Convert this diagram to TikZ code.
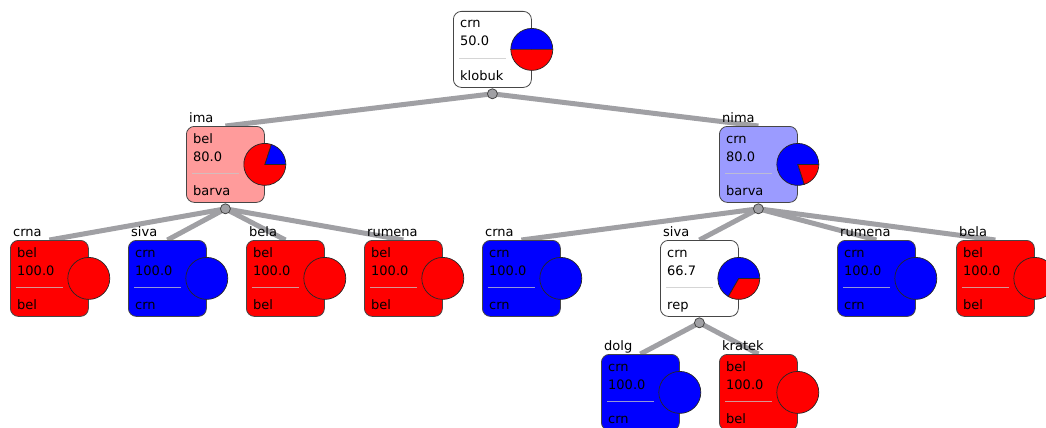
\documentclass[tikz,border=0pt]{standalone}
\usepackage{fontspec}
\setmainfont{DejaVu Sans}
\usetikzlibrary{calc}
\pgfdeclarelayer{background}
\pgfsetlayers{background,main}

\definecolor{lightred}{RGB}{255,155,155}
\definecolor{lightblue}{RGB}{155,155,255}
\definecolor{edgegray}{RGB}{160,160,164}
\definecolor{rimgray}{RGB}{70,70,70}
\definecolor{sepgray}{RGB}{200,200,200}

% 节点: 名称, 左, 上, 填充, 类别, 百分比, 属性, 分支标签
\newcommand{\tnode}[8]{%
  \node[box, fill=#4] (#1) at (#2,-#3) {};
  \node[txt] (#1-l) at ($(#1.north west)+(3,4)$) {#8};
  \node[txt] (#1-a) at ($(#1.north west)+(7,-17)$) {#5};
  \node[txt] (#1-b) at ($(#1.north west)+(7,-35)$) {#6};
  \draw[sep] ($(#1.north west)+(6,-47)$) -- ++(47,0);
  \node[txt] (#1-c) at ($(#1.north west)+(7,-69)$) {#7};
}
% 饼图: 蓝色扇形从 0 度到 #2 度
\newcommand{\tpie}[2]{%
  \draw[rim, fill=blue] (#1.east) -- ++(0:21) arc[start angle=0, end angle=#2, radius=21] -- cycle;
  \draw[rim, fill=red] (#1.east) -- ++(#2:21) arc[start angle=#2, end angle=360, radius=21] -- cycle;
}
\newcommand{\tfull}[2]{%
  \draw[rim, fill=#2] (#1.east) circle (21);
}

\begin{document}
\begin{tikzpicture}[x=1pt, y=1pt,
  box/.style={draw=rimgray, line width=0.8pt, rounded corners=8pt, anchor=north west,
    minimum width=78pt, minimum height=76pt, inner sep=0pt},
  txt/.style={anchor=base west, inner sep=0pt, font=\fontsize{13}{15}\selectfont},
  sep/.style={sepgray, opacity=0.75, line width=0.8pt},
  rim/.style={draw=black!85, line width=0.7pt},
  dot/.style={circle, draw=rimgray, fill=edgegray, line width=0.8pt,
    minimum size=10pt, inner sep=0pt},
  edge/.style={edgegray, line width=5pt},
]
  \useasboundingbox (0,0) rectangle (1046,-428);
  % 根节点
  \tnode{root}{453}{11}{white}{crn}{50.0}{klobuk}{}
  \tpie{root}{180}
  % 第一层
  \tnode{ima}{186}{126}{lightred}{bel}{80.0}{barva}{ima}
  \tpie{ima}{72}
  \tnode{nima}{719}{126}{lightblue}{crn}{80.0}{barva}{nima}
  \tpie{nima}{288}
  % 第二层
  \tnode{crnaA}{10}{240}{red}{bel}{100.0}{bel}{crna}
  \tfull{crnaA}{red}
  \tnode{sivaA}{128}{240}{blue}{crn}{100.0}{crn}{siva}
  \tfull{sivaA}{blue}
  \tnode{belaA}{246}{240}{red}{bel}{100.0}{bel}{bela}
  \tfull{belaA}{red}
  \tnode{rumenaA}{364}{240}{red}{bel}{100.0}{bel}{rumena}
  \tfull{rumenaA}{red}
  \tnode{crnaB}{482}{240}{blue}{crn}{100.0}{crn}{crna}
  \tfull{crnaB}{blue}
  \tnode{sivaB}{660}{240}{white}{crn}{66.7}{rep}{siva}
  \tpie{sivaB}{240}
  \tnode{rumenaB}{837}{240}{blue}{crn}{100.0}{crn}{rumena}
  \tfull{rumenaB}{blue}
  \tnode{belaB}{956}{240}{red}{bel}{100.0}{bel}{bela}
  \tfull{belaB}{red}
  % 第三层
  \tnode{dolg}{601}{354}{blue}{crn}{100.0}{crn}{dolg}
  \tfull{dolg}{blue}
  \tnode{kratek}{719}{354}{red}{bel}{100.0}{bel}{kratek}
  \tfull{kratek}{red}
  % 分支点
  \foreach \n in {root,ima,nima,sivaB}
    \node[dot] (\n-d) at ($(\n.south)+(0,-6)$) {};
  % 连线
  \begin{pgfonlayer}{background}
    \foreach \p/\c in {root/ima, root/nima, ima/crnaA, ima/sivaA, ima/belaA, ima/rumenaA,
        nima/crnaB, nima/sivaB, nima/rumenaB, nima/belaB, sivaB/dolg, sivaB/kratek}
      \draw[edge] (\p-d.center) -- (\c.north);
  \end{pgfonlayer}
\end{tikzpicture}
\end{document}
